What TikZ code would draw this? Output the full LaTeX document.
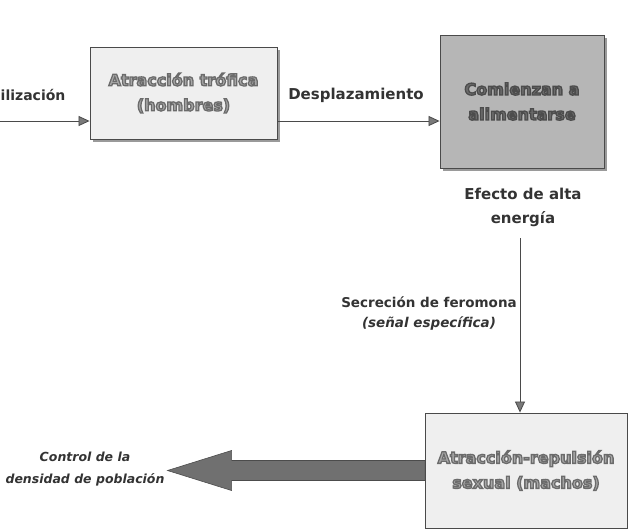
\documentclass[tikz,border=0pt]{standalone}
\usepackage{fontspec}
\setmainfont{DejaVu Sans}
\usetikzlibrary{arrows.meta}
\definecolor{linegray}{HTML}{4A4A4A}
\definecolor{tipgray}{HTML}{7A7A7A}
\definecolor{lightbox}{HTML}{EFEFEF}
\definecolor{darkbox}{HTML}{B6B6B6}
\definecolor{shadowgray}{HTML}{9A9A9A}
\definecolor{fatgray}{HTML}{707070}
\definecolor{txtgray}{HTML}{333333}
\definecolor{ltfill}{HTML}{A8A8A8}
\definecolor{dkfill}{HTML}{6C6C6C}
\newcommand{\outl}[3]{\textcolor{#2}{\special{pdf:literal direct 2 Tr 1.3 w #3 G}#1\special{pdf:literal direct 0 Tr}}}
\newcommand{\lt}[1]{\outl{#1}{ltfill}{0.42}}
\newcommand{\dk}[1]{\outl{#1}{dkfill}{0.3}}
\tikzset{
  conn/.style={draw=linegray, line width=0.8pt, -{Triangle[length=11pt,width=10pt,fill=tipgray]}},
  boxbase/.style={draw=linegray, line width=0.9pt, inner sep=0pt, align=center,
    font=\bfseries\fontsize{16}{25}\selectfont},
  lightbox/.style={boxbase, fill=lightbox},
  darkbox/.style={boxbase, fill=darkbox},
  boxshadow/.style={fill=shadowgray},
  lbl/.style={text=txtgray, align=center, font=\bfseries\fontsize{15}{24}\selectfont},
  lblsmall/.style={text=txtgray, align=center, font=\bfseries\fontsize{13.5}{20}\selectfont},
  lblit/.style={text=txtgray, align=center, font=\bfseries\itshape\fontsize{12.5}{22}\selectfont},
  fatarrow/.style={fill=fatgray, draw=gray!60!black, line width=0.6pt}
}
\begin{document}
\begin{tikzpicture}[x=1pt,y=-1pt]
\useasboundingbox (0,0) rectangle (628,530);
% shadows
\fill[boxshadow] (93,50) rectangle (280,142);
\fill[boxshadow] (443,38) rectangle (607,171);
% boxes
\node[lightbox, minimum width=187pt, minimum height=92pt] (box1) at (183.5,93)
  {\lt{Atracción trófica}\\\lt{(hombres)}};
\node[darkbox, minimum width=164pt, minimum height=133pt] (box2) at (522,101.5)
  {\dk{Comienzan a}\\\dk{alimentarse}};
\node[lightbox, minimum width=202pt, minimum height=115pt] (box3) at (526,470.5)
  {\lt{Atracción-repulsión}\\\lt{sexual (machos)}};
% labels
\node[lbl, anchor=west, inner sep=0pt, font=\bfseries\fontsize{14}{22}\selectfont] (lilz) at (0.5,95) {ilización};
\node[lbl] (ldesp) at (356,95) {Desplazamiento};
\node[lbl] (lefec) at (523,207) {Efecto de alta\\energía};
\node[lblsmall] (lsecr) at (429,313) {Secreción de feromona\\{\itshape (señal específica)}};
\node[lblit] (lcont) at (85,469) {Control de la\\densidad de población};
% connectors
\coordinate (in1) at (0,121);
\coordinate (v0) at (520,238);
\draw[conn] (in1) -- (in1 -| box1.west);
\draw[conn] (in1 -| box1.east) -- (in1 -| box2.west);
\draw[conn] (v0) -- (v0 |- box3.north);
% fat arrow
\path[fatarrow] (box3.west) ++(0,-10) -- ++(-193,0) -- ++(0,-10) -- ++(-64,20)
  -- ++(64,20) -- ++(0,-10) -- ++(193,0) -- cycle;
\end{tikzpicture}
\end{document}
